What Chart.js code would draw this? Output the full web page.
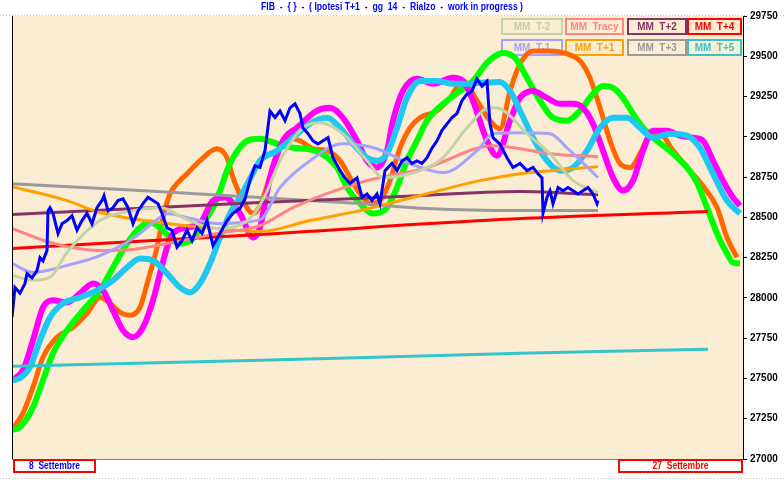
<!DOCTYPE html>
<html>
<head>
<meta charset="utf-8">
<script src="https://cdn.jsdelivr.net/npm/chart.js@4"></script>
<style>
  html, body { margin: 0; padding: 0; background: #ffffff; }
  #wrap { width: 784px; height: 480px; }
</style>
</head>
<body>
<div id="wrap"><canvas id="fibChart" width="784" height="480"></canvas></div>
<script>
// time runs 0 .. 146.2 (8 Settembre .. 27 Settembre)
const title = "FIB  -  { }  -  ( Ipotesi T+1  -  gg  14  -  Rialzo  -  work in progress )";
const yTicks = { min: 27000, max: 29750, step: 250 };
const startLabel = "8  Settembre";
const endLabel = "27  Settembre";

// price (blue)
const tPrice = [0,0.6,1.6,2.6,3,4,5,5.6,6.2,7,7.2,7.6,8.2,9.2,10,11,12,13,14,15,16,17,18,18.4,19.2,20.2,21.2,22.2,23.2,24.2,25.2,26.2,27.2,28.2,29.2,30,31,32,33,34,35,36,37,38,39,40.2,41.6,43,44.2,45.6,46.6,47.6,48.6,49.6,50.6,51.6,52.6,53.6,54.6,55.6,56.6,57.6,58.2,59.2,60.2,61.2,62.2,63.2,64.2,65.6,66.6,67.6,69,70,71,72,73,73.6,74.6,76,77,78,79,80,81,82,83,84,85,86,87,88,89,90,91,92,93,94,95,95.6,96.2,97.6,99,100.2,101.6,103,104.2,105.2,106,106.2,107,107.6,108.2,109.2,110.2,111.2,112.2,113.2,114.2,115.2,116.2,117,117.2];
const vPrice = [27880,28065,28030,28090,28150,28125,28170,28250,28230,28295,28540,28560,28525,28400,28460,28480,28510,28420,28480,28525,28460,28560,28605,28635,28540,28560,28605,28615,28560,28460,28540,28585,28625,28605,28585,28525,28435,28420,28315,28355,28420,28355,28435,28400,28480,28325,28400,28480,28525,28555,28615,28730,28820,28810,28915,29160,29120,29160,29100,29180,29205,29145,29055,29020,28975,28955,28975,28995,28870,28790,28745,28710,28745,28625,28645,28605,28645,28585,28790,28835,28790,28850,28870,28835,28850,28835,28870,28930,28975,29040,29080,29120,29145,29225,29265,29285,29360,29315,29345,29080,28995,28955,28870,28810,28835,28790,28810,28770,28745,28525,28625,28665,28585,28685,28665,28685,28665,28645,28665,28685,28645,28585,28605];

// oscillating projections (thick)
const tGreen = [0,1.6,4.2,6.2,8.2,11,14.2,17.6,20.2,23,25.6,27.6,29.6,31.6,33.6,36.2,38.2,40.2,41.6,43,44.2,47,49.6,53,56.2,60.6,65,67,69.6,72.2,75,77,79,81,83,87,89.6,92.2,95,98.2,100.6,103,105.6,108.2,111,113.6,116.2,118.2,120.2,122.2,124.2,126.2,129,132.2,135,137,139,141,143,144.2,145.6];
const vGreen = [27180,27198,27322,27489,27656,27799,27923,28047,28189,28338,28437,28468,28437,28375,28338,28369,28462,28561,28666,28790,28870,28976,28988,28957,28932,28914,28809,28685,28586,28524,28561,28685,28852,28976,29100,29224,29285,29347,29459,29521,29490,29366,29224,29118,29100,29162,29267,29316,29304,29242,29143,29056,28976,28895,28809,28716,28561,28400,28276,28220,28214];

const tOrange = [0,2.2,4.2,6.2,9,12.2,15,17.6,19.6,21.6,23.6,25.6,27.2,29,30.2,31.6,33,35,37.6,41,43,44.2,46.2,48.2,49.6,52.2,55,57.6,60.2,63,65.6,67.6,69.6,71.6,73.6,75.6,77.6,79.6,81.6,85,87.6,90.2,93,95.6,97.6,99.6,101.6,104.2,107.6,111,113.6,115.6,117.6,119.6,121.6,123.6,125.6,127.2,129.6,132.2,135.6,138.6,141,143,145];
const vOrange = [27180,27285,27446,27632,27756,27817,27904,28003,27966,27910,27892,27941,28109,28313,28499,28647,28709,28771,28852,28926,28870,28747,28604,28524,28573,28809,28994,28976,28926,28914,28852,28747,28647,28586,28604,28728,28932,29056,29118,29162,29242,29347,29224,29100,29050,29285,29453,29533,29533,29515,29471,29366,29180,28976,28833,28809,28895,28994,29019,28914,28790,28678,28561,28375,28251];

const tMagenta = [0,2.2,4.2,6.2,8.2,11,13.6,16.2,18.2,20.2,22.2,24.2,26.2,28.2,29.6,31,32.2,35,37.6,40.2,42.6,45.6,48.2,49.6,51.6,54.2,57,61,63.6,66.2,69,71,73,75,76.2,78.2,81,84.2,88.2,90.2,92.2,95,97,99.6,101.6,104.2,107,109.6,112.2,114.2,116.2,118.2,120.2,122.2,124.2,126.2,128.2,131,133.6,136.2,138.2,140.2,142.2,144.2,145.6];
const vMagenta = [27489,27551,27737,27941,27985,27972,28028,28090,28047,27923,27799,27756,27817,27985,28152,28313,28400,28437,28462,28604,28623,28524,28375,28437,28747,28976,29056,29162,29180,29118,28976,28852,28809,28914,29100,29285,29360,29329,29366,29347,29224,28976,28883,29100,29242,29285,29242,29205,29205,29180,29081,28914,28747,28666,28728,28914,29038,29038,29007,28994,28976,28852,28728,28623,28573];

const tCyan = [0,1.6,3.6,5.6,7.6,10.2,13.6,17,20.2,23,25.6,28.2,31,33.6,35.6,37.6,39.6,41.6,43.6,45.6,47.6,49.6,53,56.2,59.6,63,65.6,68.2,71,73,75,77,79,81.6,85,88.2,91,93.6,97.6,99.6,101.6,104.2,107,109.6,112.2,115,117.6,120.2,123,125.6,128.2,131.6,135,137.6,140.2,143,145.6];
const vCyan = [27489,27502,27570,27737,27879,27966,28003,28047,28109,28189,28245,28232,28152,28065,28034,28090,28214,28375,28524,28623,28740,28852,28914,28994,29081,29118,29056,28957,28870,28852,28895,29056,29242,29347,29347,29329,29329,29335,29341,29285,29162,28994,28852,28790,28809,28914,29056,29118,29118,29056,28994,29019,29007,28932,28771,28604,28524];

// moving averages (thin)
const tMMm2 = [0,4.2,7.6,11,17.6,24.2,29.6,34.6,40.6,47.6,50.6,53.6,58.2,61.6,66.2,71,74.2,79.6,86.2,91,95.6,97.6,103,107.6,112.2,117.2];
const vMMm2 = [28140,28109,28127,28282,28480,28542,28561,28493,28431,28493,28635,28852,29056,29087,29019,28852,28747,28771,28870,29056,29180,29174,29019,28895,28728,28654];
const tMMm1 = [0,4.2,11,17.6,24.2,29.6,31,35,41,49.6,53.6,59.6,66.2,73,79.6,86.2,93,96.2,101.6,107.6,111,117.2];
const vMMm1 = [28214,28158,28202,28263,28369,28499,28524,28499,28462,28486,28685,28852,28957,28926,28833,28778,28914,29019,29025,29019,28932,28747];
const tTracy = [0,7.6,17.6,24.2,31,41,49.6,56.2,69.6,83,96.2,101.6,107.6,117.2];
const vTracy = [28431,28344,28294,28301,28338,28400,28449,28561,28716,28809,28945,28926,28895,28877];
const tMMp1 = [0,11,17.6,31,41,49.6,59.6,69.6,83,93.6,101.6,107.6,117.2];
const vMMp1 = [28691,28604,28530,28462,28431,28412,28480,28542,28647,28728,28771,28790,28815];
const tMMp2 = [0,49.6,77.6,101.6,117.2];
const vMMp2 = [28517,28592,28629,28660,28641];
const tMMp3 = [0,25.6,49.6,69.6,83,101.6,117.2];
const vMMp3 = [28709,28666,28623,28586,28555,28542,28542];
const tMMp4 = [0,49.6,97.6,139.2];
const vMMp4 = [28307,28394,28486,28536];
const tMMp5 = [0,49.6,101.6,139.2];
const vMMp5 = [27576,27613,27656,27681];

// legend rows
const legendRow1 = ["MM  T-2", "MM  Tracy", "MM  T+2", "MM  T+4"];
const legendRow2 = ["MM  T-1", "MM  T+1", "MM  T+3", "MM  T+5"];
const legendColors1 = ["#c3d3a3", "#ff8484", "#883366", "#ff0000"];
const legendColors2 = ["#a3a3ff", "#ffa000", "#9a9a9a", "#33c4cc"];

const zip = (t, v) => t.map((x, i) => ({ x: x, y: v[i] }));

function curve(label, t, v, color, width, order) {
  return {
    label, data: zip(t, v), borderColor: color, backgroundColor: color,
    borderWidth: width, pointRadius: 0, cubicInterpolationMode: "monotone", order,
  };
}

// narrow bitmap-like font: squeeze text horizontally to a given width
function squeezed(ctx, text, cx, cy, width) {
  const w = ctx.measureText(text).width;
  const k = Math.min(1, width / w);
  ctx.save();
  ctx.translate(cx, cy);
  ctx.scale(k, 1);
  ctx.textAlign = "center";
  ctx.textBaseline = "middle";
  ctx.fillText(text, 0, 0);
  ctx.restore();
}

const FONT = "'Liberation Sans', Arial, sans-serif";

const decor = {
  id: "decor",
  beforeDraw(chart) {
    const { ctx, chartArea: a } = chart;
    ctx.save();
    ctx.fillStyle = "#ffffff";
    ctx.fillRect(0, 0, chart.width, chart.height);
    ctx.fillStyle = "#faedd4";
    ctx.fillRect(a.left, a.top, a.right - a.left, a.bottom - a.top);
    ctx.fillStyle = "#0000ff";
    ctx.font = "bold 11px " + FONT;
    squeezed(ctx, title, 392, 7, 262);
    ctx.setLineDash([1, 2]);
    ctx.strokeStyle = "#c8c8c8";
    ctx.lineWidth = 1;
    ctx.beginPath();
    ctx.moveTo(0, 15.5); ctx.lineTo(784, 15.5);
    ctx.moveTo(0, 478.5); ctx.lineTo(784, 478.5);
    ctx.stroke();
    ctx.restore();
  },
  beforeDatasetsDraw(chart) {
    const { ctx } = chart;
    const xs = [502, 566, 628, 688];
    const ws = [60, 57, 58, 53];
    ctx.save();
    ctx.font = "bold 10px " + FONT;
    ctx.lineWidth = 2;
    [[legendRow1, legendColors1, 19], [legendRow2, legendColors2, 40]].forEach(([names, cols, y]) => {
      names.forEach((n, i) => {
        ctx.strokeStyle = cols[i];
        ctx.fillStyle = cols[i];
        ctx.strokeRect(xs[i], y, ws[i], 15);
        squeezed(ctx, n, xs[i] + ws[i] / 2, y + 8, ws[i] - 8);
      });
    });
    ctx.restore();
  },
  afterDatasetsDraw(chart) {
    const { ctx, chartArea: a } = chart;
    ctx.save();
    ctx.strokeStyle = "#000000";
    ctx.lineWidth = 1;
    ctx.beginPath();
    ctx.moveTo(a.left + 0.5, a.top); ctx.lineTo(a.left + 0.5, a.bottom);
    ctx.stroke();
    ctx.strokeStyle = "#808080";
    ctx.beginPath();
    ctx.moveTo(a.left, a.bottom + 0.5); ctx.lineTo(a.right, a.bottom + 0.5);
    ctx.stroke();
    // date boxes
    ctx.lineWidth = 2;
    ctx.strokeStyle = "#ff0000";
    ctx.strokeRect(14, 460, 81, 12);
    ctx.strokeRect(619, 460, 123, 12);
    ctx.font = "bold 10px " + FONT;
    ctx.fillStyle = "#0000ff";
    squeezed(ctx, startLabel, 54.5, 466, 51);
    ctx.fillStyle = "#ff0000";
    squeezed(ctx, endLabel, 680.5, 466, 56);
    ctx.restore();
  },
};

new Chart(document.getElementById("fibChart"), {
  type: "line",
  data: {
    datasets: [
      curve("Proiezione 1", tOrange, vOrange, "#ff6600", 5, 24),
      curve("Proiezione 2", tGreen, vGreen, "#00ff00", 6, 23),
      curve("Proiezione 3", tMagenta, vMagenta, "#ff00ff", 6, 22),
      curve("Proiezione 4", tCyan, vCyan, "#1ec8f0", 6, 21),
      curve("MM T+5", tMMp5, vMMp5, "#33c4cc", 3, 20),
      curve("MM T+4", tMMp4, vMMp4, "#ff0000", 3, 19),
      curve("MM T+3", tMMp3, vMMp3, "#9a9a9a", 3, 18),
      curve("MM T+2", tMMp2, vMMp2, "#883366", 3, 17),
      curve("MM T+1", tMMp1, vMMp1, "#ffa000", 3, 16),
      curve("MM Tracy", tTracy, vTracy, "#ff8484", 3, 15),
      curve("MM T-1", tMMm1, vMMm1, "#a3a3ff", 3, 14),
      curve("MM T-2", tMMm2, vMMm2, "#c3d3a3", 3, 13),
      {
        label: "FIB", data: zip(tPrice, vPrice), borderColor: "#0000ff",
        borderWidth: 3, pointRadius: 0, tension: 0, order: 1,
      },
    ],
  },
  options: {
    responsive: false,
    animation: false,
    devicePixelRatio: 1,
    layout: { padding: { left: 12, top: 16, right: 0, bottom: 21 } },
    scales: {
      x: { type: "linear", min: 0, max: 146.2, display: false },
      y: {
        position: "right",
        min: yTicks.min,
        max: yTicks.max,
        afterFit(scale) { scale.width = 41; },
        ticks: {
          stepSize: yTicks.step,
          color: "#000000",
          padding: 3,
          callback: (v) => String(v),
          font: { family: FONT, size: 10, weight: "bold" },
        },
        grid: { drawOnChartArea: false, tickLength: 4, color: "#000000" },
        border: { color: "#000000", width: 1 },
      },
    },
    plugins: {
      legend: { display: false },
      tooltip: { enabled: false },
    },
  },
  plugins: [decor],
});
</script>
</body>
</html>
